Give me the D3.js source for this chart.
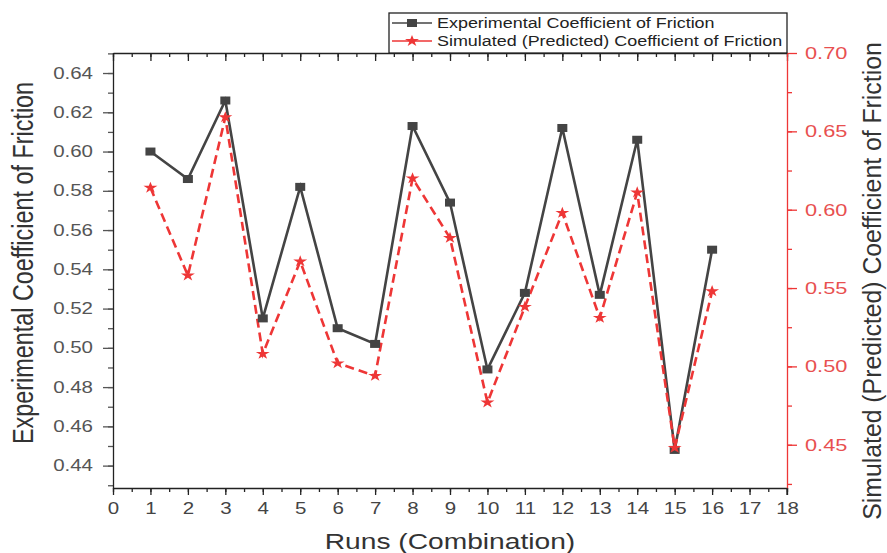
<!DOCTYPE html>
<html>
<head>
<meta charset="utf-8">
<script src="https://cdn.jsdelivr.net/npm/d3@7"></script>
<style>
  body { margin: 0; background: #fff; }
  svg { display: block; font-family: "Liberation Sans", Arial, sans-serif; }
</style>
</head>
<body>
<svg width="887" height="553"></svg>
<script>
// data
var runs = [1, 2, 3, 4, 5, 6, 7, 8, 9, 10, 11, 12, 13, 14, 15, 16];
var experimental = [0.600, 0.586, 0.626, 0.515, 0.582, 0.510, 0.502, 0.613, 0.574, 0.489, 0.528, 0.612, 0.527, 0.606, 0.448, 0.550];
var simulated = [0.614, 0.558, 0.659, 0.508, 0.567, 0.502, 0.494, 0.620, 0.582, 0.477, 0.538, 0.598, 0.531, 0.611, 0.448, 0.548];

var xTicks = [0, 1, 2, 3, 4, 5, 6, 7, 8, 9, 10, 11, 12, 13, 14, 15, 16, 17, 18];
var leftTicks = [0.44, 0.46, 0.48, 0.50, 0.52, 0.54, 0.56, 0.58, 0.60, 0.62, 0.64];
var rightTicks = [0.45, 0.50, 0.55, 0.60, 0.65, 0.70];
var seriesNames = ['Experimental Coefficient of Friction', 'Simulated (Predicted) Coefficient of Friction'];

var svg = d3.select('svg');
var svgWidth = +svg.attr('width');
var svgHeight = +svg.attr('height');

var padding = {t: 53, r: 100, b: 65, l: 113};
var black = '#444', red = '#ee3636';
var stretch = 1.28; // the reference text is drawn wide

var x = d3.scaleLinear().domain([0, 18]).range([padding.l, svgWidth - padding.r]);
var yLeft = d3.scaleLinear().domain([0.4286, 0.6502]).range([svgHeight - padding.b, padding.t]);
var yRight = d3.scaleLinear().domain([0.4224, 0.70]).range([svgHeight - padding.b, padding.t]);

var xHalf = d3.range(0, 18.01, 0.5);
var leftMinor = d3.range(0.43, 0.651, 0.01);
var rightMinor = d3.range(0.425, 0.70, 0.025);

function styleAxis(g, color) {
    g.select('.domain').attr('stroke', color).attr('stroke-width', 1.3);
    g.selectAll('.tick line').attr('stroke', color).attr('stroke-width', 1.3);
}

// top frame with inward ticks
var topAxis = svg.append('g')
    .attr('transform', 'translate(0,' + padding.t + ')')
    .call(d3.axisTop(x).tickValues(xTicks).tickSize(-8).tickFormat('').tickSizeOuter(0));
styleAxis(topAxis, '#222');
svg.append('g')
    .attr('transform', 'translate(0,' + padding.t + ')')
    .call(d3.axisTop(x).tickValues(xHalf).tickSize(-4).tickFormat('').tickSizeOuter(0))
    .call(function(g) { g.select('.domain').remove(); styleAxis(g, '#222'); });

// bottom axis
svg.append('g')
    .attr('transform', 'translate(0,' + (svgHeight - padding.b) + ')')
    .call(d3.axisBottom(x).tickValues(xHalf).tickSize(4).tickFormat('').tickSizeOuter(0))
    .call(function(g) { g.select('.domain').remove(); styleAxis(g, '#222'); });
var bottomAxis = svg.append('g')
    .attr('transform', 'translate(0,' + (svgHeight - padding.b) + ')')
    .call(d3.axisBottom(x).tickValues(xTicks).tickSize(7).tickPadding(8).tickSizeOuter(0));
styleAxis(bottomAxis, '#222');
bottomAxis.selectAll('text').attr('font-size', 16).attr('fill', '#444');

// left axis
svg.append('g')
    .attr('transform', 'translate(' + padding.l + ',0)')
    .call(d3.axisLeft(yLeft).tickValues(leftMinor).tickSize(5).tickFormat('').tickSizeOuter(0))
    .call(function(g) { g.select('.domain').remove(); styleAxis(g, '#555'); });
var leftAxis = svg.append('g')
    .attr('transform', 'translate(' + padding.l + ',0)')
    .call(d3.axisLeft(yLeft).tickValues(leftTicks).tickSize(10).tickPadding(10)
        .tickFormat(d3.format('.2f')).tickSizeOuter(0));
styleAxis(leftAxis, '#555');
leftAxis.select('.domain').attr('stroke', '#222');
leftAxis.selectAll('text').attr('font-size', 16).attr('fill', '#555');

// right axis (red)
var xr = svgWidth - padding.r;
svg.append('g')
    .attr('transform', 'translate(' + xr + ',0)')
    .call(d3.axisRight(yRight).tickValues(rightMinor).tickSize(5).tickFormat('').tickSizeOuter(0))
    .call(function(g) { g.select('.domain').remove(); styleAxis(g, red); });
var rightAxis = svg.append('g')
    .attr('transform', 'translate(' + xr + ',0)')
    .call(d3.axisRight(yRight).tickValues(rightTicks).tickSize(10).tickPadding(8)
        .tickFormat(d3.format('.2f')).tickSizeOuter(0));
styleAxis(rightAxis, red);
rightAxis.selectAll('text').attr('font-size', 17).attr('fill', '#e85050');

// black tick at bottom right corner
svg.append('line')
    .attr('x1', xr).attr('x2', xr)
    .attr('y1', svgHeight - padding.b).attr('y2', svgHeight - padding.b + 7)
    .attr('stroke', '#222').attr('stroke-width', 1.3);

// axis titles
svg.append('text')
    .attr('class', 'wide')
    .attr('x', (padding.l + xr) / 2)
    .attr('y', 549)
    .attr('text-anchor', 'middle')
    .attr('font-size', 22)
    .attr('fill', '#333')
    .text('Runs (Combination)');

svg.append('text')
    .attr('transform', 'translate(23,263) scale(' + stretch + ',1) rotate(-90)')
    .attr('text-anchor', 'middle')
    .attr('dominant-baseline', 'central')
    .attr('font-size', 23.4)
    .attr('fill', '#333')
    .text(seriesNames[0]);

svg.append('text')
    .attr('transform', 'translate(872,281) scale(1.05,1) rotate(-90)')
    .attr('text-anchor', 'middle')
    .attr('dominant-baseline', 'central')
    .attr('font-size', 24.8)
    .attr('fill', '#333')
    .text(seriesNames[1]);

// lines
var expLine = d3.line()
    .x(function(d, i) { return x(runs[i]); })
    .y(function(d) { return yLeft(d); });
var simLine = d3.line()
    .x(function(d, i) { return x(runs[i]); })
    .y(function(d) { return yRight(d); });

svg.append('path')
    .datum(experimental)
    .attr('d', expLine)
    .attr('fill', 'none')
    .attr('stroke', black)
    .attr('stroke-width', 2.6)
    .attr('stroke-linejoin', 'miter');

svg.append('path')
    .datum(simulated)
    .attr('d', simLine)
    .attr('fill', 'none')
    .attr('stroke', red)
    .attr('stroke-width', 2.6)
    .attr('stroke-dasharray', '9,5');

var star = d3.symbol().type(d3.symbolStar).size(42);

svg.selectAll('.sq')
    .data(experimental)
    .enter()
    .append('rect')
    .attr('class', 'sq')
    .attr('x', function(d, i) { return x(runs[i]) - 5; })
    .attr('y', function(d) { return yLeft(d) - 4; })
    .attr('width', 10)
    .attr('height', 8)
    .attr('fill', black);

svg.selectAll('.star')
    .data(simulated)
    .enter()
    .append('path')
    .attr('class', 'star')
    .attr('d', star)
    .attr('transform', function(d, i) {
        return 'translate(' + [x(runs[i]), yRight(d)] + ') scale(1.2,1)';
    })
    .attr('fill', red);

// legend
var legend = svg.append('g').attr('transform', 'translate(389,13)');
legend.append('rect')
    .attr('width', xr - 389)
    .attr('height', padding.t - 13)
    .attr('fill', '#fff')
    .attr('stroke', '#222')
    .attr('stroke-width', 1.3);

var rows = legend.selectAll('.row')
    .data(seriesNames)
    .enter()
    .append('g')
    .attr('class', 'row')
    .attr('transform', function(d, i) { return 'translate(0,' + (10 + i * 18) + ')'; });

rows.append('line')
    .attr('x1', 3).attr('x2', 43)
    .attr('stroke', function(d, i) { return i ? red : black; })
    .attr('stroke-width', 1.3);

rows.filter(function(d, i) { return i === 0; })
    .append('rect')
    .attr('x', 18).attr('y', -4)
    .attr('width', 10).attr('height', 8)
    .attr('fill', black);

rows.filter(function(d, i) { return i === 1; })
    .append('path')
    .attr('d', star)
    .attr('transform', 'translate(23,0) scale(1.2,1)')
    .attr('fill', red);

rows.append('text')
    .attr('class', 'wide')
    .attr('x', 48)
    .attr('dy', '0.35em')
    .attr('font-size', 14)
    .attr('fill', '#222')
    .text(function(d) { return d; });

// widen horizontal text like the reference
svg.selectAll('.tick text, text.wide').each(function() {
    var w = this.getComputedTextLength();
    d3.select(this)
        .attr('textLength', w * stretch)
        .attr('lengthAdjust', 'spacingAndGlyphs');
});
</script>
</body>
</html>
